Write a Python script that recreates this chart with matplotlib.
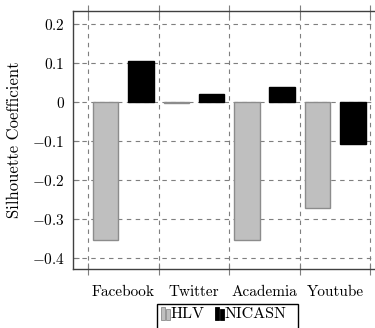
import numpy as np
import matplotlib.pyplot as plt
from matplotlib.patches import Rectangle

plt.rcParams.update({
    "font.family": "cmr10",
    "mathtext.fontset": "cm",
    "axes.unicode_minus": True,
    "font.size": 11,
})

# ------------------------------------------------------------
# data
# ------------------------------------------------------------
datasets = ["Facebook", "Twitter", "Academia", "Youtube"]
hlv = [-0.354, -0.003, -0.354, -0.272]
nicasn = [0.105, 0.021, 0.038, -0.108]
series_names = ["HLV", "NICASN"]
yticks = [-0.4, -0.3, -0.2, -0.1, 0.0, 0.1, 0.2]

W, H = 375, 328
gray_fill = "#bfbfbf"
gray_edge = "#8c8c8c"
grid_col = "#7f7f7f"
dash = (0, (4, 4))

fig = plt.figure(figsize=(W / 100, H / 100), dpi=100)


def fx(px):
    return px / W


def fy(py):
    return 1 - py / H


# axes box (right edge runs just past the image, like the original crop)
ax = fig.add_axes([fx(73), fy(269), fx(378) - fx(73), fy(11) - fy(269)])

x = np.arange(1, len(datasets) + 1)
off = 0.25
bw = 0.36

ax.bar(x - off, hlv, width=bw, color=gray_fill, edgecolor=gray_edge,
       linewidth=1.0, zorder=3)
ax.bar(x + off, nicasn, width=bw, color="black", edgecolor="black",
       linewidth=1.0, zorder=3)

ax.set_xlim(0.288, 4.607)
ax.set_ylim(-0.428, 0.233)

ax.set_xticks(x)
ax.set_xticklabels(datasets)
sep = np.arange(0.5, len(datasets) + 1, 1.0)
ax.set_xticks(sep, minor=True)
ax.tick_params(axis="x", which="major", length=0, pad=12)
ax.tick_params(axis="x", which="minor", direction="inout", length=9,
               top=True, bottom=True, width=0.8, color=grid_col)

# dashed separators between groups
for xs in sep:
    ax.axvline(xs, color=grid_col, linewidth=0.8, linestyle=dash, zorder=0)

ax.set_yticks(yticks)
ax.set_yticklabels([r"$0$" if v == 0 else r"$%.1f$" % v for v in yticks])
ax.tick_params(axis="y", direction="in", length=4, width=0.8,
               color=grid_col, pad=6)
ax.grid(True, which="major", axis="y", linestyle=dash,
        color=grid_col, linewidth=0.8, zorder=0)

for s in ax.spines.values():
    s.set_color("#404040")
    s.set_linewidth(1.0)

ax.set_ylabel("Silhouette Coefficient", fontsize=12, labelpad=7)

# ------------------------------------------------------------
# pgfplots-style legend box
# ------------------------------------------------------------
fig.add_artist(Rectangle((fx(157), fy(329)), fx(298) - fx(157),
                         fy(304) - fy(329), transform=fig.transFigure,
                         facecolor="white", edgecolor="black", linewidth=1.0))

legend_items = [
    (series_names[0], gray_fill, gray_edge, 161, 171),
    (series_names[1], "black", "black", 215, 225),
]
for name, fc, ec, x0, tx in legend_items:
    fig.add_artist(Rectangle((fx(x0), fy(320)), fx(4), fy(307) - fy(320),
                             transform=fig.transFigure, facecolor=fc,
                             edgecolor=ec, linewidth=0.6))
    fig.add_artist(Rectangle((fx(x0 + 5), fy(320)), fx(4), fy(309) - fy(320),
                             transform=fig.transFigure, facecolor=fc,
                             edgecolor=ec, linewidth=0.6))
    fig.text(fx(tx), fy(314), name, ha="left", va="center", fontsize=11.5)

fig.savefig("out.png", dpi=100)
